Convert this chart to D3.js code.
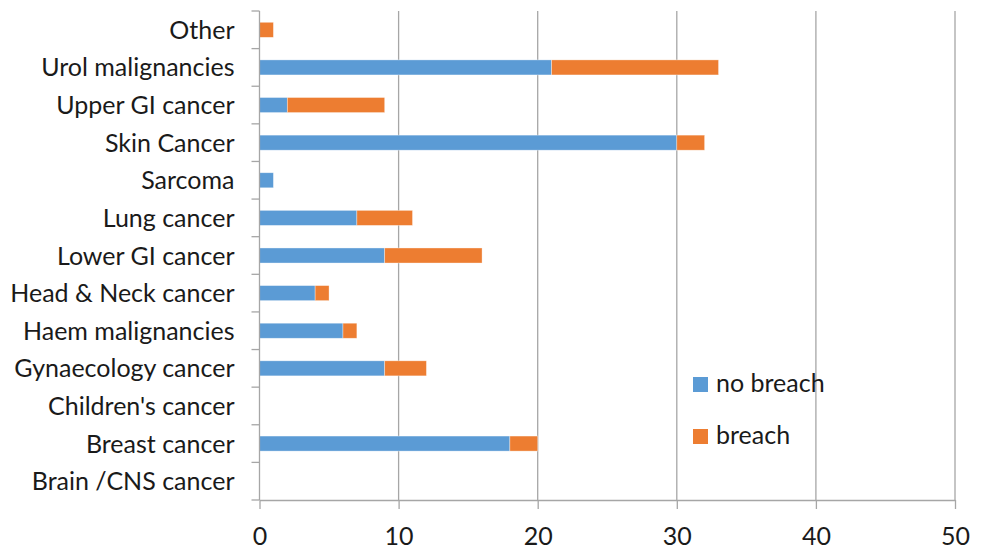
<!DOCTYPE html>
<html>
<head>
<meta charset="utf-8">
<script src="https://cdn.jsdelivr.net/npm/d3@7"></script>
<style>
  html, body { margin: 0; padding: 0; background: #fff; }
  svg { display: block; }
  text { font-family: Lato, "Open Sans", sans-serif; fill: #1a1a1a; }
</style>
</head>
<body>
<svg id="chart" width="983" height="549"></svg>
<script>
// Cancer sites, listed top to bottom
const categories = [
  "Other", "Urol malignancies", "Upper GI cancer", "Skin Cancer", "Sarcoma",
  "Lung cancer", "Lower GI cancer", "Head & Neck cancer", "Haem malignancies",
  "Gynaecology cancer", "Children's cancer", "Breast cancer", "Brain /CNS cancer"
];
const noBreach = [0, 21, 2, 30, 1, 7, 9, 4, 6, 9, 0, 18, 0];
const breach   = [1, 12, 7, 2, 0, 4, 7, 1, 1, 3, 0, 2, 0];
const seriesNames = ["no breach", "breach"];
const seriesColors = ["#5B9BD5", "#ED7D31"];
const xTicks = [0, 10, 20, 30, 40, 50];

const FONT = 25;
const svg = d3.select("#chart");
const margin = { top: 11, left: 259.5, right: 28, bottom: 49 };
const W = 983, H = 549;

const x = d3.scaleLinear().domain([0, 50]).range([margin.left, W - margin.right]);
const y = d3.scaleBand().domain(categories).range([margin.top, H - margin.bottom])
  .paddingInner(0.6).paddingOuter(0.3);

// vertical gridlines
svg.append("g").selectAll("line").data(xTicks.slice(1)).join("line")
  .attr("x1", d => x(d)).attr("x2", d => x(d))
  .attr("y1", margin.top).attr("y2", H - margin.bottom)
  .attr("stroke", "#a6a6a6").attr("stroke-width", 1.3);

// stacked bars
const rows = categories.map((c, i) => ({ cat: c, values: [noBreach[i], breach[i]] }));
const stack = d3.stack().keys([0, 1]).value((d, k) => d.values[k]);
const layers = stack(rows);
svg.append("g").selectAll("g").data(layers).join("g")
  .attr("fill", (d, i) => seriesColors[i])
  .selectAll("rect").data(d => d.filter(s => s[1] > s[0])).join("rect")
  .attr("x", d => x(d[0]))
  .attr("width", d => x(d[1]) - x(d[0]))
  .attr("y", d => y(d.data.cat))
  .attr("height", y.bandwidth())
  .attr("stroke", "#fff").attr("stroke-opacity", 0.5).attr("stroke-width", 0.7);

// category axis
const yAxis = svg.append("g").attr("transform", `translate(${x(0)},0)`);
yAxis.append("line").attr("x1", 0).attr("x2", 0)
  .attr("y1", margin.top).attr("y2", H - margin.bottom)
  .attr("stroke", "#a6a6a6").attr("stroke-width", 1.3);
const boundaries = d3.range(categories.length + 1)
  .map(i => margin.top + i * (H - margin.bottom - margin.top) / categories.length);
yAxis.selectAll("line.tick").data(boundaries).join("line").attr("class", "tick")
  .attr("x1", -8).attr("x2", 0).attr("y1", d => d).attr("y2", d => d)
  .attr("stroke", "#a6a6a6").attr("stroke-width", 1.3);
yAxis.selectAll("text").data(categories).join("text")
  .attr("x", -25).attr("y", d => y(d) + y.bandwidth() / 2)
  .attr("dy", "0.36em").attr("text-anchor", "end")
  .attr("font-size", FONT).text(d => d);

// value axis
const xAxisG = svg.append("g").attr("transform", `translate(0,${H - margin.bottom})`)
  .call(d3.axisBottom(x).tickValues(xTicks).tickSize(9).tickSizeOuter(0).tickPadding(18));
xAxisG.select(".domain").attr("stroke", "#a6a6a6").attr("stroke-width", 1.3);
xAxisG.selectAll(".tick line").attr("stroke", "#a6a6a6").attr("stroke-width", 1.3);
xAxisG.selectAll(".tick text").attr("font-size", FONT)
  .attr("font-family", "Lato, 'Open Sans', sans-serif").attr("fill", "#1a1a1a");

// legend
const legend = svg.append("g").attr("transform", "translate(693,377)");
const items = legend.selectAll("g").data(seriesNames).join("g")
  .attr("transform", (d, i) => `translate(0,${i * 52})`);
items.append("rect").attr("width", 15).attr("height", 15)
  .attr("fill", (d, i) => seriesColors[i]);
items.append("text").attr("x", 23).attr("y", 15).attr("font-size", FONT).text(d => d);
</script>
</body>
</html>
